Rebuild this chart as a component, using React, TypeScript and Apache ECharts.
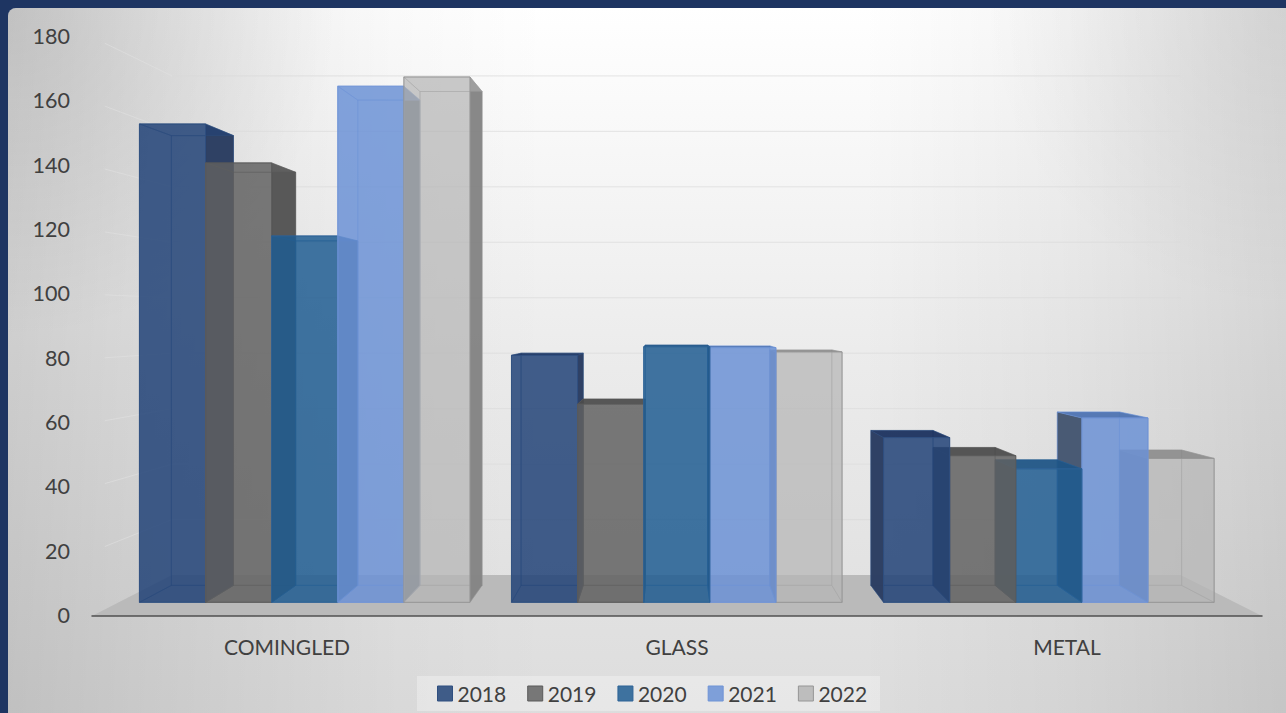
import React, { useEffect, useRef } from "react";
import * as echarts from "echarts";

const categories = ["COMINGLED", "GLASS", "METAL"];
const years = ["2018", "2019", "2020", "2021", "2022"];
const yTicks = [0, 20, 40, 60, 80, 100, 120, 140, 160, 180];

const values2018 = [155.9, 80.5, 53.7];
const values2019 = [143.2, 64.6, 47.8];
const values2020 = [119.4, 83.3, 43.5];
const values2021 = [168.2, 83.0, 60.1];
const values2022 = [171.2, 81.6, 46.9];
const yearValues = [values2018, values2019, values2020, values2021, values2022];

// Glass-like fill of each box, plus the darker tones of its exposed faces.
const faceFill = ["31,65,118", "96,96,96", "30,92,145", "106,145,214", "181,181,181"];
const faceAlpha = [0.6, 0.6, 0.6, 0.6, 0.48];
const sideFill = ["45,62,98", "85,85,85", "50,85,115", "70,86,111", "132,132,132"];
const topFill = ["26,47,92", "74,74,74", "31,85,133", "74,112,174", "138,138,138"];
const edgeColor = ["47,79,128", "90,90,90", "45,98,150", "111,148,214", "150,150,150"];
const legendColor = ["#3f5c88", "#777777", "#3e729f", "#7e9fd9", "#bdbdbd"];

// Perspective of the box: everything recedes toward one vanishing point.
const VANISH_X = 672;
const VANISH_Y = 319;
const DEPTH_BOX_FRONT = 0.954;
const DEPTH_BOX_BACK = 0.8968;
const DEPTH_WALL = 0.862;
const BAR_SHARE = 0.1777;

type Pt = [number, number];

const recede = (p: Pt, depth: number): Pt => [
  VANISH_X + depth * (p[0] - VANISH_X),
  VANISH_Y + depth * (p[1] - VANISH_Y),
];

const poly = (points: Pt[], fill: string, stroke: string, z2: number) => ({
  type: "polygon",
  z2,
  shape: { points },
  style: { fill, stroke, lineWidth: 1 },
  silent: true,
});

const renderWalls = (params: any, api: any) => {
  const cs = params.coordSys;
  const left = cs.x;
  const right = cs.x + cs.width;
  const children: any[] = [];

  const baseY = api.coord([0, 0])[1];
  children.push(
    poly(
      [[left, baseY], [right, baseY], recede([right, baseY], DEPTH_WALL), recede([left, baseY], DEPTH_WALL)],
      "#bababa",
      "none",
      1,
    ),
  );

  yTicks.forEach((tick) => {
    if (tick === 0) return;
    const y = api.coord([0, tick])[1];
    const a = recede([left, y], DEPTH_WALL);
    const b = recede([right, y], DEPTH_WALL);
    children.push({
      type: "polyline",
      z2: 2,
      shape: { points: [a, b] },
      style: { fill: "none", stroke: "rgba(218,218,218,0.7)", lineWidth: 1 },
      silent: true,
    });
    const t = 0.16;
    children.push({
      type: "line",
      z2: 2,
      shape: { x1: left + (a[0] - left) * t, y1: y + (a[1] - y) * t, x2: a[0], y2: a[1] },
      style: { stroke: "rgba(226,226,226,0.55)", lineWidth: 1 },
      silent: true,
    });
  });
  return { type: "group", children };
};

const renderBox = (yearIndex: number) => (_params: any, api: any) => {
  const cat = api.value(0);
  const val = api.value(1);
  const [cx, y0] = api.coord([cat, 0]);
  const yTop = api.coord([cat, val])[1];
  const w = api.size([1, 0])[0] * BAR_SHARE;
  const xL = cx + (yearIndex - 2.5) * w;
  const xR = xL + w;

  const fBL = recede([xL, y0], DEPTH_BOX_FRONT);
  const fBR = recede([xR, y0], DEPTH_BOX_FRONT);
  const fTL = recede([xL, yTop], DEPTH_BOX_FRONT);
  const fTR = recede([xR, yTop], DEPTH_BOX_FRONT);
  const bBL = recede([xL, y0], DEPTH_BOX_BACK);
  const bBR = recede([xR, y0], DEPTH_BOX_BACK);
  const bTL = recede([xL, yTop], DEPTH_BOX_BACK);
  const bTR = recede([xR, yTop], DEPTH_BOX_BACK);

  // Boxes further from the vanishing point are painted first.
  const mid = (fBL[0] + fBR[0]) / 2;
  const base = Math.round(2000 - Math.abs(mid - VANISH_X)) * 10;

  const inner = `rgba(${faceFill[yearIndex]},${faceAlpha[yearIndex]})`;
  const sideOuter = `rgba(${sideFill[yearIndex]},0.96)`;
  const topOuter = `rgba(${topFill[yearIndex]},0.85)`;
  const faint = `rgba(${edgeColor[yearIndex]},0.45)`;
  const edge = `rgba(${edgeColor[yearIndex]},0.9)`;

  const leftExposed = bBL[0] < fBL[0];
  const rightExposed = bBR[0] > fBR[0];
  const topExposed = bTL[1] < fTL[1];

  const children = [
    poly([bBL, bBR, bTR, bTL], inner, faint, base + 1),
    poly([fBL, bBL, bBR, fBR], inner, faint, base + 2),
    poly([fBL, fTL, bTL, bBL], leftExposed ? sideOuter : inner, faint, base + 3),
    poly([fBR, fTR, bTR, bBR], rightExposed ? sideOuter : inner, faint, base + 4),
    poly([fTL, fTR, bTR, bTL], topExposed ? topOuter : inner, faint, base + 5),
    poly([fBL, fBR, fTR, fTL], inner, edge, base + 6),
  ];
  return { type: "group", children };
};

export default function App() {
  const ref = useRef<HTMLDivElement>(null);

  useEffect(() => {
    document.body.style.margin = "0";
    const chart = echarts.init(ref.current!, undefined, { renderer: "svg" });
    const font = "Lato";
    const panel = { x: 8, y: 8, width: 1290, height: 720, r: 8 };
    const shade = (z: number, fill: any) => ({
      type: "rect",
      z,
      silent: true,
      shape: panel,
      style: { fill },
    });
    chart.setOption({
      animation: false,
      backgroundColor: "#1e3562",
      textStyle: { fontFamily: font },
      graphic: [
        shade(
          -10,
          new echarts.graphic.LinearGradient(0, 0, 0, 1, [
            { offset: 0, color: "#ffffff" },
            { offset: 0.5, color: "#ebebeb" },
            { offset: 1, color: "#dcdcdc" },
          ]),
        ),
        shade(
          -9,
          new echarts.graphic.LinearGradient(0, 0, 1, 0, [
            { offset: 0, color: "rgba(0,0,0,0.13)" },
            { offset: 0.1, color: "rgba(0,0,0,0.09)" },
            { offset: 0.3, color: "rgba(0,0,0,0.02)" },
            { offset: 0.42, color: "rgba(0,0,0,0)" },
            { offset: 0.66, color: "rgba(0,0,0,0)" },
            { offset: 0.82, color: "rgba(0,0,0,0.04)" },
            { offset: 0.95, color: "rgba(0,0,0,0.09)" },
            { offset: 1, color: "rgba(0,0,0,0.11)" },
          ]),
        ),
        shade(
          -8,
          new echarts.graphic.RadialGradient(8, 8, 330, [
            { offset: 0, color: "rgba(0,0,0,0.13)" },
            { offset: 1, color: "rgba(0,0,0,0)" },
          ], true),
        ),
        shade(
          -8,
          new echarts.graphic.RadialGradient(1286, 8, 300, [
            { offset: 0, color: "rgba(0,0,0,0.08)" },
            { offset: 1, color: "rgba(0,0,0,0)" },
          ], true),
        ),
      ],
      grid: { left: 92, right: 24, top: 37, bottom: 97 },
      xAxis: {
        type: "category",
        data: categories,
        z: 3,
        axisTick: { show: false },
        axisLine: { show: true, lineStyle: { color: "#505050", width: 1.5 } },
        axisLabel: { color: "#404040", fontSize: 21, fontFamily: font, margin: 20 },
      },
      yAxis: {
        type: "value",
        min: 0,
        max: 180,
        interval: 20,
        axisLine: { show: false },
        axisTick: { show: false },
        splitLine: { show: false },
        axisLabel: {
          color: "#404040",
          fontSize: 21.5,
          fontFamily: font,
          margin: 22,
          verticalAlign: "bottom",
          lineHeight: 2,
        },
      },
      legend: {
        left: 417,
        top: 676,
        padding: [6, 13, 6, 20],
        itemGap: 21,
        itemWidth: 15,
        itemHeight: 15,
        backgroundColor: "rgba(255,255,255,0.3)",
        selectedMode: false,
        textStyle: { color: "#404040", fontSize: 21, fontFamily: font, lineHeight: 23 },
        data: years.map((name, i) => ({
          name,
          icon: "rect",
          itemStyle: { color: legendColor[i], borderColor: `rgb(${edgeColor[i]})`, borderWidth: 1 },
        })),
      },
      series: [
        {
          type: "custom",
          name: "walls",
          silent: true,
          z: 1,
          data: [[0, 0]],
          encode: { x: 0, y: 1 },
          clip: false,
          renderItem: renderWalls,
        },
        ...years.map((name, i) => ({
          type: "custom",
          name,
          silent: true,
          clip: false,
          itemStyle: { color: legendColor[i] },
          encode: { x: 0, y: 1 },
          data: categories.map((_c, c) => [c, yearValues[i][c]]),
          renderItem: renderBox(i),
        })),
      ],
    });
    return () => chart.dispose();
  }, []);

  return <div ref={ref} style={{ position: "fixed", left: 0, top: 0, width: 1286, height: 713 }} />;
}
